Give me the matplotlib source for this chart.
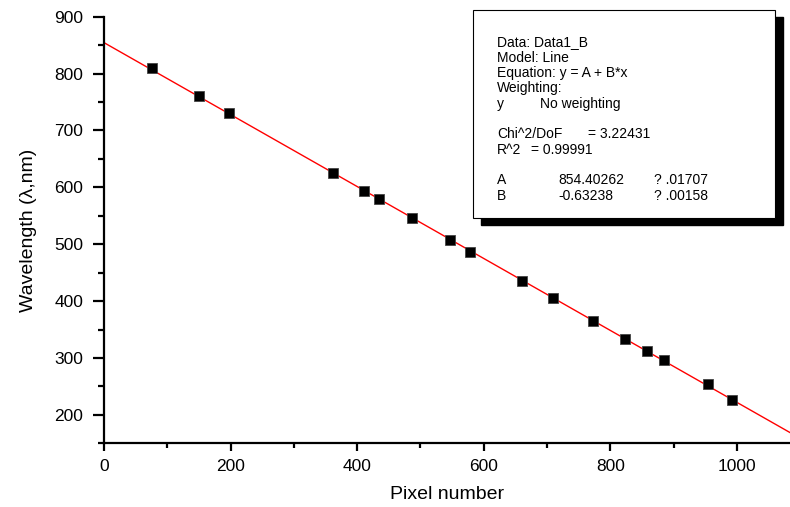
import numpy as np
import matplotlib.pyplot as plt
from matplotlib.patches import Rectangle
from matplotlib.ticker import MultipleLocator

# calibration points
pixels = [76, 150, 198, 362, 411, 435, 486, 546, 578, 660, 710, 773, 824, 858, 885, 955, 992]
wavelengths = [809, 760, 730, 625, 593, 579, 546, 508, 486, 436, 405, 365, 334, 313, 297, 254, 227]

# linear fit parameters shown in the box
fit_a = 854.40262
fit_b = -0.63238

box_lines = [
    ("Data: Data1_B", "", ""),
    ("Model: Line", "", ""),
    ("Equation: y = A + B*x", "", ""),
    ("Weighting:", "", ""),
    ("y", "No weighting", ""),
    ("", "", ""),
    ("Chi^2/DoF", "= 3.22431", ""),
    ("R^2", "= 0.99991", ""),
    ("", "", ""),
    ("A", "854.40262", "? .01707"),
    ("B", "-0.63238", "? .00158"),
]

W, H = 790, 507
plt.rcParams['font.family'] = ['Liberation Sans', 'DejaVu Sans']

fig = plt.figure(figsize=(W / 100, H / 100), dpi=100)
ax = fig.add_axes([104 / W, 1 - 443.3 / H, (W - 104) / W, (443.3 - 16.7) / H])

x_fit = np.array([0, 1084])
ax.plot(x_fit, fit_a + fit_b * x_fit, color="red", lw=1.0, zorder=2)
ax.plot(pixels, wavelengths, ls="none", marker="s", markersize=7,
        color="black", markeredgecolor="#444444", markeredgewidth=0.6, zorder=3)

ax.set_xlim(0, 1084)
ax.set_ylim(150, 900)
ax.xaxis.set_major_locator(MultipleLocator(200))
ax.xaxis.set_minor_locator(MultipleLocator(100))
ax.yaxis.set_major_locator(MultipleLocator(100))
ax.yaxis.set_minor_locator(MultipleLocator(50))
ax.spines["top"].set_visible(False)
ax.spines["right"].set_visible(False)
for s in ("left", "bottom"):
    ax.spines[s].set_linewidth(1.6)
ax.tick_params(axis="y", which="major", direction="out", length=8, width=1.6, labelsize=12.5, pad=7)
ax.tick_params(axis="y", which="minor", direction="out", length=4.5, width=1.6)
ax.tick_params(axis="x", which="major", direction="out", length=6, width=1.6, labelsize=12.5, pad=5)
ax.tick_params(axis="x", which="minor", direction="out", length=3.5, width=1.6)
ax.set_yticks(range(200, 901, 100))

ax.set_xlabel("Pixel number", fontsize=14, labelpad=9)
ax.set_ylabel("Wavelength (λ,nm)", fontsize=14, labelpad=12)

# stats box with shadow
def fx(px):
    return px / W

def fy(py):
    return 1 - py / H

bx0, by0, bx1, by1 = 473, 10, 775, 218
fig.patches.append(Rectangle((fx(bx0 + 8), fy(by1 + 7)), fx(bx1 - bx0), (by1 - by0) / H,
                             transform=fig.transFigure, facecolor="black", edgecolor="black", zorder=5))
fig.patches.append(Rectangle((fx(bx0), fy(by1)), fx(bx1 - bx0), (by1 - by0) / H,
                             transform=fig.transFigure, facecolor="white", edgecolor="black",
                             lw=0.8, zorder=6))

y0 = 46.5
for i, (c0, c1, c2) in enumerate(box_lines):
    yy = fy(y0 + i * 15.3)
    if c0:
        fig.text(fx(497), yy, c0, fontsize=10, va="baseline", zorder=7)
    if c1:
        if c0 == "y":
            x1 = 540
        elif c0 == "Chi^2/DoF":
            x1 = 588
        elif c0 == "R^2":
            x1 = 531
        else:
            x1 = 558
        fig.text(fx(x1), yy, c1, fontsize=10, va="baseline", zorder=7)
    if c2:
        fig.text(fx(654), yy, c2, fontsize=10, va="baseline", zorder=7)

fig.savefig("out.png", dpi=100)
